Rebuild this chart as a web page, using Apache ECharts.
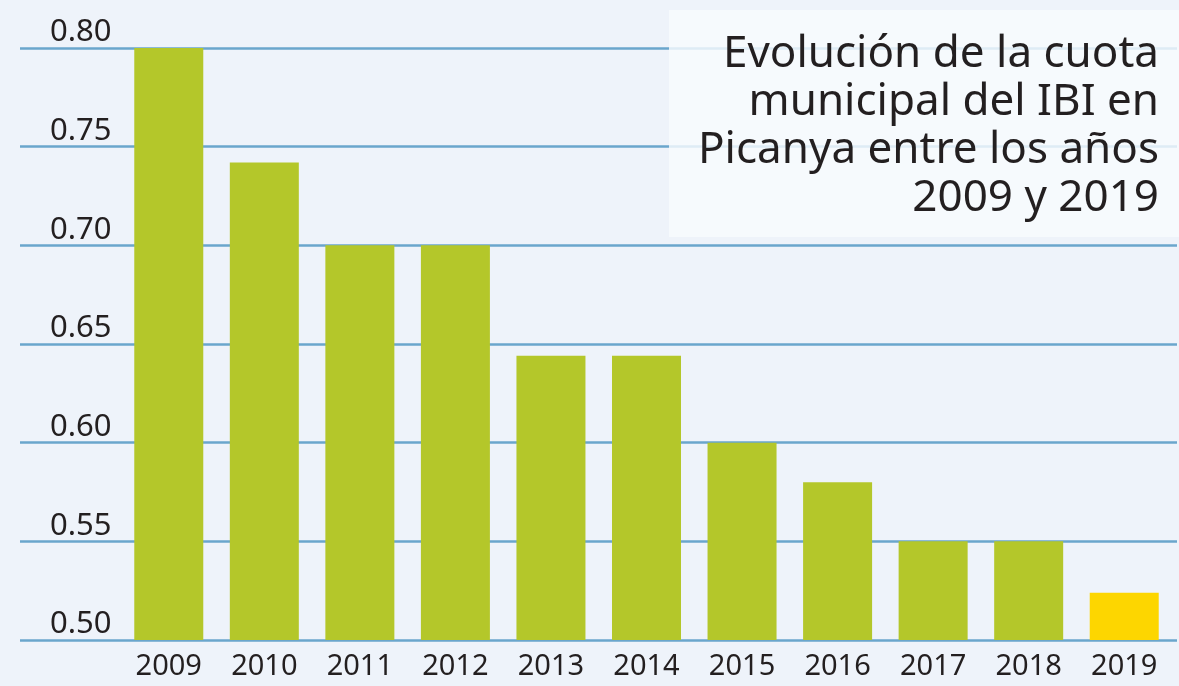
<!DOCTYPE html>
<html>
<head>
<meta charset="utf-8">
<script src="https://cdn.jsdelivr.net/npm/echarts@6/dist/echarts.min.js"></script>
<style>
  html, body { margin: 0; padding: 0; background: #eef3fa; }
  #main { width: 1179px; height: 686px; }
</style>
</head>
<body>
<div id="main"></div>
<script>
// años y cuota del IBI (%)
var years = ['2009', '2010', '2011', '2012', '2013', '2014', '2015', '2016', '2017', '2018', '2019'];
var cuota = [0.80, 0.742, 0.70, 0.70, 0.644, 0.644, 0.60, 0.58, 0.55, 0.55, 0.524];
var titleLines = ['Evolución de la cuota', 'municipal del IBI en', 'Picanya entre los años', '2009 y 2019'];

var myChart = echarts.init(document.getElementById('main'));

var options = {
    backgroundColor: '#eef3fa',
    animation: false,
    // recuadro del titulo, texto alineado a la derecha
    graphic: [
        {
            type: 'rect',
            z: 10,
            shape: { x: 669, y: 10, width: 510, height: 227 },
            style: { fill: 'rgba(248,251,254,0.82)' }
        },
        {
            type: 'text',
            z: 11,
            x: 1159,
            y: 30,
            style: {
                text: titleLines.join('\n'),
                align: 'right',
                verticalAlign: 'top',
                fontFamily: 'Noto Sans',
                fontSize: 44,
                lineHeight: 48,
                fill: '#231f20'
            }
        }
    ],
    grid: [
        { left: 20, right: 2, top: 48, bottom: 46 },   // lineas de fondo
        { left: 121, right: 7, top: 48, bottom: 46 }   // barras
    ],
    xAxis: [
        { gridIndex: 0, type: 'value', show: false },
        {
            gridIndex: 1,
            type: 'category',
            data: years,
            axisLine: { show: false },
            axisTick: { show: false },
            axisLabel: {
                margin: 12,
                fontFamily: 'Noto Sans',
                fontSize: 29,
                color: '#231f20'
            }
        }
    ],
    yAxis: [
        {
            gridIndex: 0,
            type: 'value',
            min: 0.5,
            max: 0.8,
            interval: 0.05,
            axisLine: { show: false },
            axisTick: { show: false },
            splitLine: { lineStyle: { color: '#6aa6cc', width: 2.5 } },
            axisLabel: {
                inside: true,
                margin: 30,
                verticalAlign: 'bottom',
                fontFamily: 'Noto Sans',
                fontSize: 31,
                color: '#231f20',
                formatter: function (v) { return v.toFixed(2); }
            }
        },
        { gridIndex: 1, type: 'value', min: 0.5, max: 0.8, show: false }
    ],
    series: [{
        type: 'bar',
        xAxisIndex: 1,
        yAxisIndex: 1,
        barWidth: 69,
        data: cuota,
        itemStyle: {
            color: function (p) {
                return p.dataIndex === cuota.length - 1 ? '#fdd600' : '#b4c72a';
            }
        }
    }]
};
myChart.setOption(options);
</script>
</body>
</html>
